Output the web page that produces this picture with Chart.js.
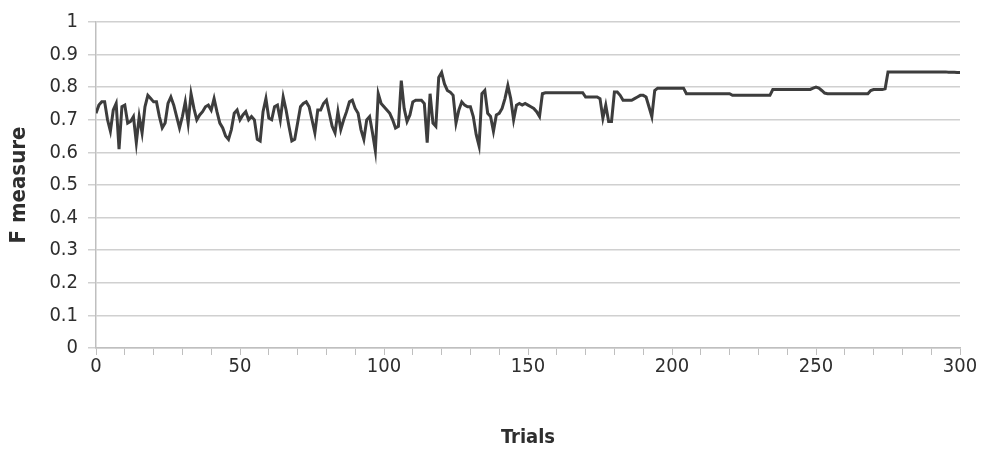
<!DOCTYPE html>
<html>
<head>
<meta charset="utf-8">
<script src="https://cdn.jsdelivr.net/npm/chart.js@4/dist/chart.umd.min.js"></script>
<style>
  html, body { margin: 0; padding: 0; background: #fff; }
  #wrap { width: 982px; height: 452px; }
</style>
</head>
<body>
<div id="wrap"><canvas id="chart"></canvas></div>
<script>
// F measure per trial (trials 0..300)
const fTrials0to49 = [
  0.72, 0.745, 0.755, 0.755, 0.70, 0.665, 0.73, 0.75, 0.61, 0.74,
  0.745, 0.69, 0.695, 0.71, 0.63, 0.71, 0.66, 0.74, 0.775, 0.765,
  0.755, 0.755, 0.71, 0.675, 0.69, 0.75, 0.77, 0.745, 0.71, 0.675,
  0.71, 0.755, 0.69, 0.78, 0.735, 0.70, 0.715, 0.725, 0.74, 0.745,
  0.73, 0.765, 0.725, 0.69, 0.675, 0.65, 0.64, 0.67, 0.72, 0.73
];
const fTrials50to99 = [
  0.70, 0.715, 0.725, 0.70, 0.71, 0.70, 0.64, 0.635, 0.725, 0.765,
  0.705, 0.70, 0.74, 0.745, 0.70, 0.77, 0.73, 0.68, 0.635, 0.64,
  0.69, 0.74, 0.75, 0.755, 0.74, 0.70, 0.66, 0.73, 0.73, 0.75,
  0.76, 0.72, 0.68, 0.66, 0.725, 0.67, 0.70, 0.725, 0.755, 0.76,
  0.735, 0.72, 0.67, 0.64, 0.70, 0.71, 0.66, 0.605, 0.78, 0.75
];
const fTrials100to149 = [
  0.74, 0.73, 0.72, 0.70, 0.675, 0.68, 0.82, 0.735, 0.695, 0.715,
  0.755, 0.76, 0.76, 0.76, 0.75, 0.63, 0.78, 0.69, 0.68, 0.83,
  0.845, 0.81, 0.79, 0.785, 0.775, 0.69, 0.73, 0.755, 0.745, 0.74,
  0.74, 0.71, 0.655, 0.62, 0.78, 0.79, 0.72, 0.71, 0.665, 0.715,
  0.72, 0.735, 0.765, 0.805, 0.765, 0.70, 0.745, 0.75, 0.745, 0.75
];
const fTrials150to199 = [
  0.745, 0.74, 0.735, 0.725, 0.71, 0.78, 0.783, 0.783, 0.783, 0.783,
  0.783, 0.783, 0.783, 0.783, 0.783, 0.783, 0.783, 0.783, 0.783, 0.783,
  0.77, 0.77, 0.77, 0.77, 0.77, 0.765, 0.705, 0.745, 0.695, 0.695,
  0.785, 0.785, 0.775, 0.76, 0.76, 0.76, 0.76, 0.765, 0.77, 0.775,
  0.775, 0.77, 0.74, 0.71, 0.79, 0.797, 0.797, 0.797, 0.797, 0.797
];
const fTrials200to249 = [
  0.797, 0.797, 0.797, 0.797, 0.797, 0.78, 0.78, 0.78, 0.78, 0.78,
  0.78, 0.78, 0.78, 0.78, 0.78, 0.78, 0.78, 0.78, 0.78, 0.78,
  0.78, 0.775, 0.775, 0.775, 0.775, 0.775, 0.775, 0.775, 0.775, 0.775,
  0.775, 0.775, 0.775, 0.775, 0.775, 0.793, 0.793, 0.793, 0.793, 0.793,
  0.793, 0.793, 0.793, 0.793, 0.793, 0.793, 0.793, 0.793, 0.793, 0.797
];
const fTrials250to300 = [
  0.80, 0.797, 0.79, 0.782, 0.78, 0.78, 0.78, 0.78, 0.78, 0.78,
  0.78, 0.78, 0.78, 0.78, 0.78, 0.78, 0.78, 0.78, 0.78, 0.79,
  0.793, 0.793, 0.793, 0.793, 0.795, 0.847, 0.847, 0.847, 0.847, 0.847,
  0.847, 0.847, 0.847, 0.847, 0.847, 0.847, 0.847, 0.847, 0.847, 0.847,
  0.847, 0.847, 0.847, 0.847, 0.847, 0.847, 0.846, 0.846, 0.846, 0.845,
  0.845
];

const xTitle = "Trials";
const yTitle = "F measure";

const fMeasure = fTrials0to49.concat(fTrials50to99, fTrials100to149,
  fTrials150to199, fTrials200to249, fTrials250to300);
// one point per trial, trial number = position in the list
const points = fMeasure.map((v, i) => ({ x: i, y: v }));

const textColor = "#2e2e2e";
const fontFamily = "'DejaVu Sans Condensed', 'DejaVu Sans', sans-serif";

new Chart(document.getElementById("chart"), {
  type: "line",
  data: {
    datasets: [{
      data: points,
      borderColor: "#3d3d3d",
      borderWidth: 3,
      pointRadius: 0,
      tension: 0,
      fill: false
    }]
  },
  options: {
    responsive: true,
    maintainAspectRatio: false,
    animation: false,
    layout: { padding: { top: 15, right: 22, left: 0, bottom: 0 } },
    plugins: { legend: { display: false }, tooltip: { enabled: false } },
    scales: {
      x: {
        type: "linear",
        min: 0,
        max: 300,
        afterFit: (scale) => { scale.height = 104; },
        ticks: {
          stepSize: 10,
          autoSkip: false,
          maxRotation: 0,
          padding: 0,
          color: textColor,
          font: { family: fontFamily, size: 20 },
          callback: (v) => (v % 50 === 0 ? String(v) : "")
        },
        grid: { drawOnChartArea: false, tickLength: 7, color: "#bfbfbf", lineWidth: 1 },
        border: { color: "#bfbfbf", width: 1.5 },
        title: {
          display: true,
          text: xTitle,
          color: textColor,
          font: { family: fontFamily, size: 20, weight: "bold" },
          padding: { top: 0, bottom: 2 }
        }
      },
      y: {
        min: 0,
        max: 1,
        afterFit: (scale) => { scale.width = 96; },
        ticks: {
          stepSize: 0.1,
          padding: 10,
          color: textColor,
          font: { family: fontFamily, size: 20 },
          callback: (v) => String(Math.round(v * 10) / 10)
        },
        grid: { color: "#d0d0d0", lineWidth: 1.5, tickLength: 8 },
        border: { color: "#bfbfbf", width: 1.5 },
        title: {
          display: true,
          text: yTitle,
          color: textColor,
          font: { family: fontFamily, size: 22, weight: "bold" },
          padding: { top: 6, bottom: 0 }
        }
      }
    }
  }
});
</script>
</body>
</html>
